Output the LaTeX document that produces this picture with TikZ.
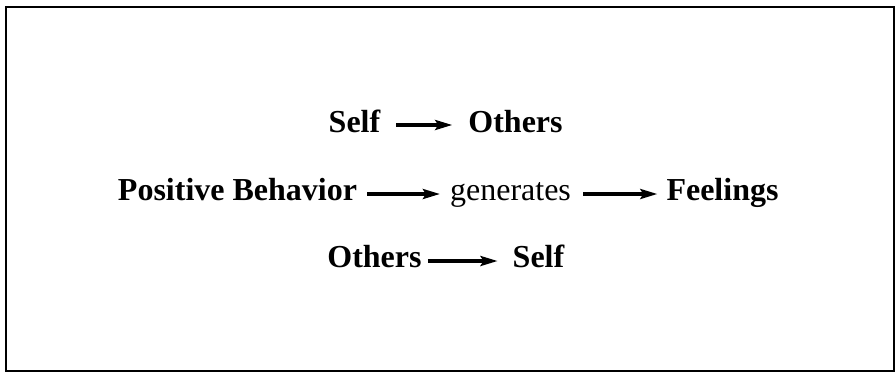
\documentclass[tikz,border=0pt]{standalone}
\usepackage{fontspec}
\setmainfont{Liberation Serif}
\usetikzlibrary{arrows.meta}
\begin{document}
\begin{tikzpicture}[x=1pt,y=-1pt,
  lbl/.style={inner sep=0pt, anchor=base, font=\fontsize{32}{38}\selectfont\bfseries},
  plain/.style={inner sep=0pt, anchor=base, font=\fontsize{32}{38}\selectfont},
  arr/.style={line width=3.2pt, -{Stealth[length=17pt,width=10pt,inset=3pt]}},
  frame/.style={draw=black, line width=2.2pt}]
\useasboundingbox (0,0) rectangle (896,373);
\draw[frame] (6,7) rectangle (894,371);
% row 1
\node[lbl] (s1) at (354.5,132) {Self};
\node[lbl] (o1) at (515.5,132) {Others};
\draw[arr] ([xshift=16pt,yshift=7pt]s1.base east) -- ([xshift=-16pt,yshift=7pt]o1.base west);
% row 2
\node[lbl] (pb) at (237.5,200) {Positive Behavior};
\node[plain] (gen) at (510.5,200) {generates};
\node[lbl] (fe) at (722.5,200) {Feelings};
\draw[arr] ([xshift=10pt,yshift=6pt]pb.base east) -- ([xshift=-10pt,yshift=6pt]gen.base west);
\draw[arr] ([xshift=12pt,yshift=6pt]gen.base east) -- ([xshift=-9pt,yshift=6pt]fe.base west);
% row 3
\node[lbl] (o3) at (374.5,267) {Others};
\node[lbl] (s3) at (538.5,267) {Self};
\draw[arr] ([xshift=6pt,yshift=6pt]o3.base east) -- ([xshift=-15pt,yshift=6pt]s3.base west);
\end{tikzpicture}
\end{document}
